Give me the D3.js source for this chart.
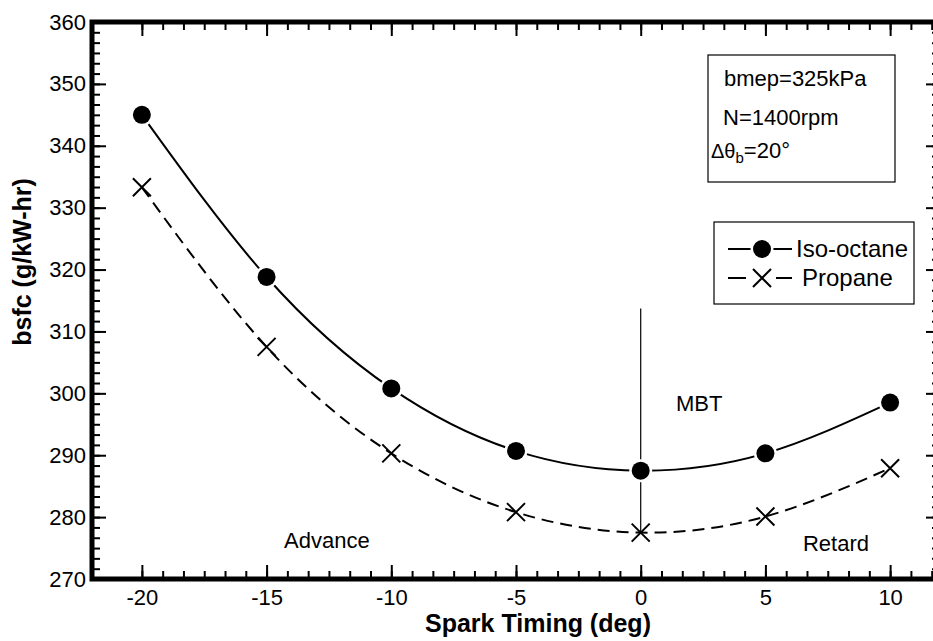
<!DOCTYPE html>
<html>
<head>
<meta charset="utf-8">
<script src="https://cdn.jsdelivr.net/npm/d3@7.9.0/dist/d3.min.js"></script>
<style>
  body { margin: 0; background: #fff; }
  svg { display: block; font-family: "Liberation Sans", Arial, sans-serif; }
</style>
</head>
<body>
<svg width="933" height="641"></svg>
<script>
// spark timing (deg) and bsfc values
const sparkTiming = [-20, -15, -10, -5, 0, 5, 10];
const isoOctane = [345.0, 318.8, 300.8, 290.7, 287.5, 290.3, 298.5];
const propane = [333.3, 307.5, 290.3, 280.8, 277.5, 280.1, 287.9];

const xTicks = [-20, -15, -10, -5, 0, 5, 10];
const yTicks = [270, 280, 290, 300, 310, 320, 330, 340, 350, 360];
const infoLines = ["bmep=325kPa", "N=1400rpm"];
const mbtLine = [313.7, 277.5];

const svg = d3.select("svg");

const x = d3.scaleLinear().domain([-22, 12]).range([92, 940]);
const y = d3.scaleLinear().domain([270, 360]).range([579, 22]);

// minor ticks: 6 per major interval
const xMinor = d3.range(0, 40).map((i) => -20 + (i * 5) / 6).filter((v) => v <= 12);
const yMinor = d3.range(0, 55).map((i) => 270 + (i * 10) / 6).filter((v) => v <= 360);

const noLabel = () => "";
const plain = (d) => String(d); // keep ascii hyphen for negatives

// bottom
svg.append("g").attr("transform", `translate(0,${y(270)})`)
  .call(d3.axisBottom(x).tickValues(xMinor).tickSize(-8).tickFormat(noLabel));
svg.append("g").attr("transform", `translate(0,${y(270)})`)
  .call(d3.axisBottom(x).tickValues(xTicks).tickSize(-14).tickPadding(10).tickFormat(plain));
// top
svg.append("g").attr("transform", `translate(0,${y(360)})`)
  .call(d3.axisTop(x).tickValues(xMinor).tickSize(-8).tickFormat(noLabel));
svg.append("g").attr("transform", `translate(0,${y(360)})`)
  .call(d3.axisTop(x).tickValues(xTicks).tickSize(-14).tickFormat(noLabel));
// left
svg.append("g").attr("transform", `translate(${x(-22)},0)`)
  .call(d3.axisLeft(y).tickValues(yMinor).tickSize(-8).tickFormat(noLabel));
svg.append("g").attr("transform", `translate(${x(-22)},0)`)
  .call(d3.axisLeft(y).tickValues(yTicks).tickSize(-14).tickPadding(6).tickFormat(plain));
// right
svg.append("g").attr("transform", `translate(${x(12)},0)`)
  .call(d3.axisRight(y).tickValues(yMinor).tickSize(-8).tickFormat(noLabel));
svg.append("g").attr("transform", `translate(${x(12)},0)`)
  .call(d3.axisRight(y).tickValues(yTicks).tickSize(-14).tickFormat(noLabel));

svg.selectAll(".domain").remove();
svg.selectAll(".tick line").attr("stroke", "#000").attr("stroke-width", 2);
svg.selectAll(".tick text").attr("fill", "#000").attr("font-size", 22)
  .attr("font-family", "Liberation Sans, Arial, sans-serif");

// thick frame
svg.append("rect")
  .attr("x", x(-22)).attr("y", y(360))
  .attr("width", x(12) - x(-22)).attr("height", y(270) - y(360))
  .attr("fill", "none").attr("stroke", "#000").attr("stroke-width", 5);

// MBT line
svg.append("line")
  .attr("x1", x(0)).attr("x2", x(0))
  .attr("y1", y(mbtLine[0])).attr("y2", y(mbtLine[1]))
  .attr("stroke", "#000").attr("stroke-width", 1.2);

const line = d3.line().curve(d3.curveNatural)
  .x((d) => x(d[0])).y((d) => y(d[1]));

const isoPts = sparkTiming.map((t, i) => [t, isoOctane[i]]);
const proPts = sparkTiming.map((t, i) => [t, propane[i]]);

svg.append("path").attr("d", line(proPts))
  .attr("fill", "none").attr("stroke", "#000").attr("stroke-width", 2)
  .attr("stroke-dasharray", "12,7");
svg.append("path").attr("d", line(isoPts))
  .attr("fill", "none").attr("stroke", "#000").attr("stroke-width", 2);

// markers
const xMark = (g, cx, cy) => {
  const s = 9;
  g.append("path")
    .attr("d", `M${cx - s},${cy - s}L${cx + s},${cy + s}M${cx - s},${cy + s}L${cx + s},${cy - s}`)
    .attr("stroke", "#000").attr("stroke-width", 2).attr("fill", "none");
};
proPts.forEach((d) => xMark(svg, x(d[0]), y(d[1])));
svg.selectAll(".iso").data(isoPts).join("circle")
  .attr("class", "iso")
  .attr("cx", (d) => x(d[0])).attr("cy", (d) => y(d[1])).attr("r", 9)
  .attr("fill", "#000").attr("stroke", "#fff").attr("stroke-width", 5)
  .attr("paint-order", "stroke");

// annotations
const label = (tx, ty, txt, anchor = "start", size = 22) =>
  svg.append("text").attr("x", tx).attr("y", ty).attr("text-anchor", anchor)
    .attr("font-size", size).text(txt);
label(284, 548, "Advance");
label(676, 411, "MBT");
label(836, 551, "Retard", "middle");

// info box
svg.append("rect").attr("x", 708).attr("y", 55).attr("width", 187).attr("height", 127)
  .attr("fill", "#fff").attr("stroke", "#000").attr("stroke-width", 1.2);
label(724, 86, infoLines[0]);
label(723, 125, infoLines[1]);
const dt = label(711, 158, "Δθ", "start", 20);
dt.append("tspan").attr("font-size", 15).attr("dy", 5).text("b");
dt.append("tspan").attr("dy", -5).attr("font-size", 22).text("=20°");

// legend
svg.append("rect").attr("x", 714).attr("y", 222).attr("width", 200).attr("height", 82)
  .attr("fill", "#fff").attr("stroke", "#000").attr("stroke-width", 1.2);
const lg = svg.append("g");
lg.append("line").attr("x1", 728).attr("x2", 792).attr("y1", 249).attr("y2", 249)
  .attr("stroke", "#000").attr("stroke-width", 2);
lg.append("circle").attr("cx", 762).attr("cy", 249).attr("r", 9)
  .attr("fill", "#000").attr("stroke", "#fff").attr("stroke-width", 5).attr("paint-order", "stroke");
[[728, 746], [776, 792]].forEach(([a, b]) =>
  lg.append("line").attr("x1", a).attr("x2", b).attr("y1", 278).attr("y2", 278)
    .attr("stroke", "#000").attr("stroke-width", 2));
xMark(lg, 762, 278);
lg.append("text").attr("x", 796).attr("y", 257).attr("font-size", 24).text("Iso-octane");
lg.append("text").attr("x", 802).attr("y", 286).attr("font-size", 24).text("Propane");

// axis titles
svg.append("text").attr("x", 538).attr("y", 632).attr("text-anchor", "middle")
  .attr("font-size", 25).attr("font-weight", "bold").text("Spark Timing (deg)");
svg.append("text").attr("transform", "translate(31,262) rotate(-90)")
  .attr("text-anchor", "middle").attr("font-size", 25).attr("font-weight", "bold")
  .text("bsfc (g/kW-hr)");
</script>
</body>
</html>
